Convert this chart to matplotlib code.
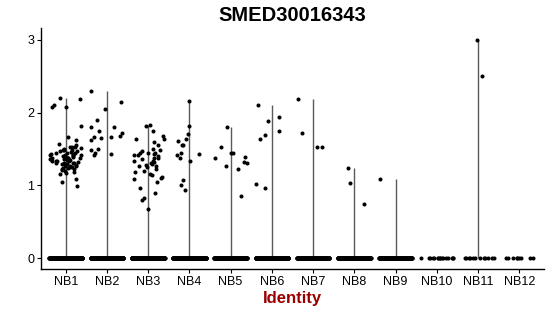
import numpy as np
import matplotlib
matplotlib.use("Agg")
import matplotlib.pyplot as plt

plt.rcParams['font.family'] = ['Liberation Sans', 'DejaVu Sans']

categories = ["NB1", "NB2", "NB3", "NB4", "NB5", "NB6", "NB7", "NB8", "NB9", "NB10", "NB11", "NB12"]

# non-zero expression values per identity
nb1 = [2.20, 2.19, 2.11, 2.08, 2.07, 1.82, 1.66, 1.62, 1.57, 1.55, 1.53, 1.52, 1.51, 1.50, 1.49,
       1.48, 1.47, 1.47, 1.46, 1.45, 1.44, 1.44, 1.43, 1.43, 1.42, 1.42, 1.41, 1.40, 1.40, 1.39,
       1.39, 1.38, 1.38, 1.37, 1.37, 1.36, 1.36, 1.35, 1.35, 1.34, 1.34, 1.33, 1.33, 1.32, 1.31,
       1.31, 1.30, 1.30, 1.29, 1.28, 1.27, 1.27, 1.26, 1.25, 1.25, 1.24, 1.24, 1.23, 1.22, 1.21,
       1.20, 1.18, 1.17, 1.15, 1.08, 1.05, 0.99, 1.52, 1.48, 1.41, 1.36, 1.29]
nb2 = [2.30, 2.15, 2.05, 1.90, 1.80, 1.80, 1.75, 1.72, 1.68, 1.67, 1.66, 1.65, 1.62, 1.50, 1.49,
       1.45, 1.43, 1.41]
nb3 = [1.83, 1.82, 1.74, 1.68, 1.64, 1.63, 1.60, 1.55, 1.50, 1.49, 1.47, 1.45, 1.45, 1.44, 1.43,
       1.42, 1.41, 1.40, 1.38, 1.37, 1.36, 1.34, 1.33, 1.32, 1.30, 1.29, 1.28, 1.27, 1.26, 1.25,
       1.22, 1.20, 1.18, 1.16, 1.14, 1.12, 1.10, 1.08, 1.04, 0.96, 0.89, 0.83, 0.80, 0.67]
nb4 = [2.16, 1.82, 1.70, 1.64, 1.61, 1.56, 1.55, 1.45, 1.43, 1.41, 1.38, 1.34, 1.07, 1.00, 0.94]
nb5 = [1.80, 1.52, 1.45, 1.45, 1.39, 1.37, 1.32, 1.31, 1.27, 1.23, 0.85]
nb6 = [2.10, 1.94, 1.89, 1.75, 1.69, 1.63, 1.02, 0.96]
nb7 = [2.19, 1.72, 1.53, 1.52]
nb8 = [1.24, 1.03, 0.74]
nb9 = [1.08]
nb10 = []
nb11 = [3.00, 2.50]
nb12 = []
nonzero = [nb1, nb2, nb3, nb4, nb5, nb6, nb7, nb8, nb9, nb10, nb11, nb12]

# number of cells with zero expression per identity (estimated)
zero_counts = [400, 400, 400, 380, 350, 280, 250, 230, 180, 16, 12, 9]

title = "SMED30016343"
xlabel = "Identity"
yticks = [0, 1, 2, 3]

fig = plt.figure(figsize=(5.5, 3.16), dpi=100)
ax = fig.add_axes([0.0745, 0.149, 0.9145, 0.762])

rng = np.random.default_rng(7)
for i, (vals, nz) in enumerate(zip(nonzero, zero_counts)):
    pos = i + 1
    allvals = np.concatenate([np.zeros(nz), np.array(vals, dtype=float)])
    vmax = allvals.max()
    if vmax > 0:
        ax.vlines(pos, 0, vmax, color='#5a5a5a', lw=1.0, zorder=1)
    xj = pos + rng.uniform(-0.4, 0.4, size=len(allvals))
    ax.scatter(xj, allvals, s=8.5, color='black', linewidths=0, zorder=3)

ax.set_xlim(0.4, 12.6)
ax.set_ylim(-0.15, 3.16)
ax.set_xticks(range(1, len(categories) + 1))
ax.set_xticklabels(categories, fontsize=9)
ax.set_yticks(yticks)
ax.set_yticklabels([str(t) for t in yticks], fontsize=9)
ax.tick_params(axis='both', direction='out', length=3, width=0.8, color='black', pad=2)

for s in ['top', 'right']:
    ax.spines[s].set_visible(False)
for s in ['left', 'bottom']:
    ax.spines[s].set_color('black')
    ax.spines[s].set_linewidth(1.0)

ax.set_title(title, fontsize=14.5, fontweight='bold', pad=5)
ax.set_xlabel(xlabel, fontsize=12, fontweight='bold', color='#990000', labelpad=2)

fig.savefig("out.png", dpi=100)
